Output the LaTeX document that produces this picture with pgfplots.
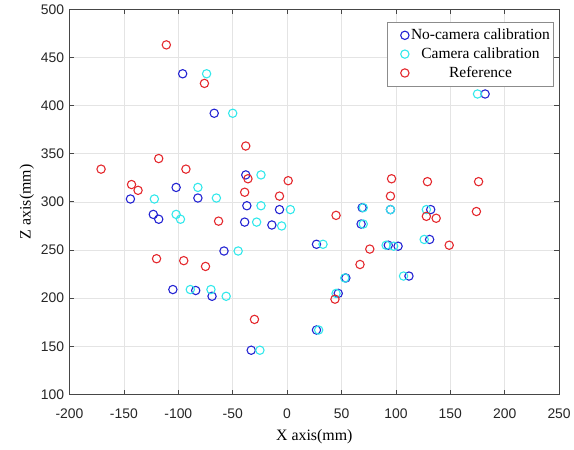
\documentclass[border=0pt]{standalone}
\usepackage{fontspec}
\setmainfont{Liberation Serif}
\newfontfamily\ticksf{Liberation Sans}
\usepackage{pgfplots}
\pgfplotsset{compat=1.18}
\definecolor{mblue}{RGB}{35,35,210}
\definecolor{mcyan}{RGB}{50,232,235}
\definecolor{mred}{RGB}{228,40,45}
\definecolor{gridc}{RGB}{228,228,228}
\definecolor{axc}{RGB}{70,70,70}
\begin{document}
\begin{tikzpicture}
\begin{axis}[
  scale only axis,
  width=493pt, height=388pt,
  xmin=-200, xmax=250, ymin=100, ymax=500,
  xtick={-200,-150,...,250},
  ytick={100,150,...,500},
  grid=major,
  major grid style={draw=gridc, line width=0.6pt},
  axis line style={draw=axc, line width=0.8pt},
  tick style={draw=axc, line width=0.8pt},
  tick align=inside,
  major tick length=5pt,
  /pgf/number format/assume math mode=true,
  tick label style={font=\ticksf\fontsize{14}{16}\selectfont, text=black!85},
  xticklabel style={yshift=-11pt},
  yticklabel style={xshift=-2pt},
  label style={font=\fontsize{16}{19}\selectfont},
  xlabel={X axis(mm)},
  ylabel={Z axis(mm)},
  xlabel style={at={(axis description cs:0.5,-0.11)}, anchor=center},
  ylabel style={at={(axis description cs:-0.087,0.5)}, anchor=center},
  legend style={at={(rel axis cs:0.988,0.967)}, anchor=north east,
    font=\fontsize{15.6}{18}\selectfont, draw=black!45, line width=0.6pt,
    inner xsep=1pt, inner ysep=5pt, row sep=2.6pt},
  legend cell align=center,
  legend image code/.code={\path[draw=none,fill=none] (-8pt,0pt) -- (0pt,0pt);
    \draw[mark repeat=2,mark phase=2,#1] plot coordinates {(0cm,0cm) (0.3cm,0cm) (0.6cm,0cm)};},
  every axis plot/.append style={only marks, mark=o, mark size=4.2pt, line width=1.1pt},
]
\addplot[mblue] coordinates {
(-96,433) (-67,392) (-38,328) (-102,315) (-144,303) (-82,304) (-37,296) (-7,292)
(-123,287) (-118,282) (-39,279) (-14,276) (-58,249) (-105,209) (-84,208) (-69,202)
(-33,146) (68,277) (27,256) (93,255) (102,254) (131,261) (112,223) (54,221)
(47,205) (27,167) (182,412) (69,294) (95,292) (132,292)
};
\addlegendentry{No-camera calibration}
\addplot[mcyan] coordinates {
(-74,433) (-50,392) (-24,328) (-82,315) (-122,303) (-65,304) (-24,296) (3,292)
(-102,287) (-98,282) (-28,279) (-5,275) (-45,249) (-89,209) (-70,209) (-56,202)
(-25,146) (70,277) (33,256) (91,255) (98,254) (126,261) (107,223) (53,221)
(45,205) (29,167) (175,412) (70,294) (95,292) (128,292)
};
\addlegendentry{Camera calibration}
\addplot[mred] coordinates {
(-111,463) (-76,423) (-38,358) (-118,345) (-171,334) (-93,334) (-36,324) (1,322)
(-143,318) (-137,312) (-39,310) (-7,306) (-63,280) (-120,241) (-95,239) (-75,233)
(-30,178) (76,251) (149,255) (67,235) (44,199) (96,324) (129,321) (176,321)
(95,306) (174,290) (128,285) (137,283) (45,286)
};
\addlegendentry{Reference}
\end{axis}
\path ([shift={(-70pt,-55.7pt)}]current axis.south west) rectangle ([shift={(11pt,9.3pt)}]current axis.north east);
\end{tikzpicture}
\end{document}
